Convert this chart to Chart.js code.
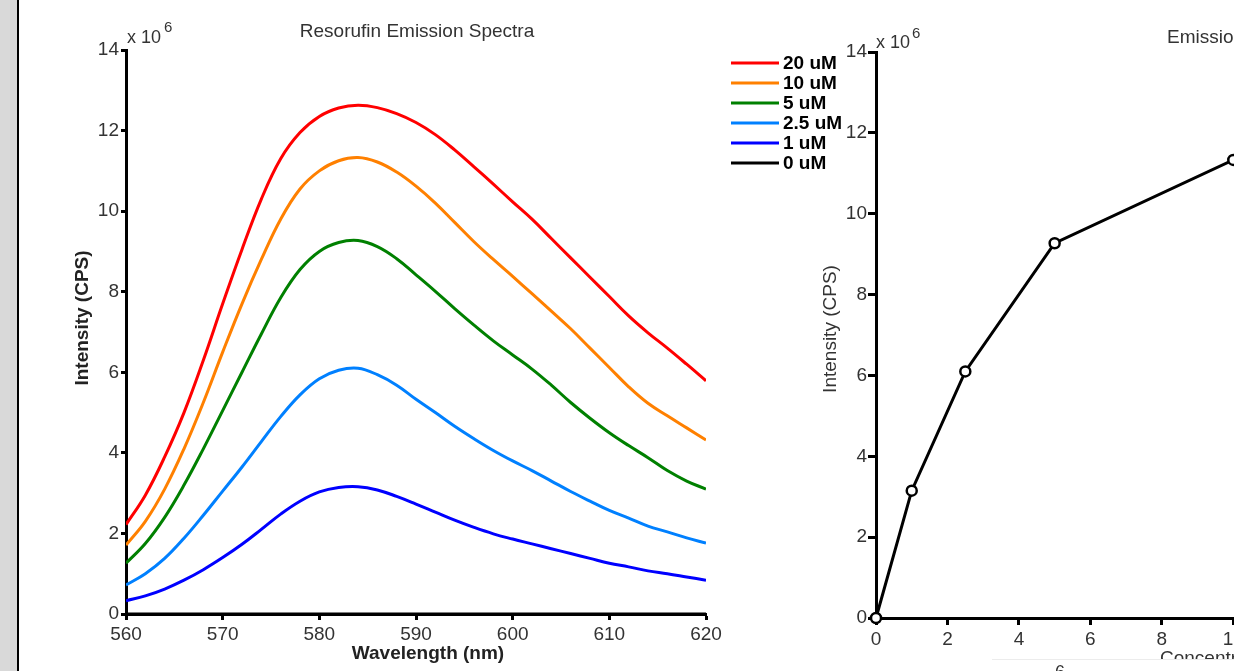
<!DOCTYPE html>
<html>
<head>
<meta charset="utf-8">
<script src="https://cdn.jsdelivr.net/npm/chart.js@4.4.1/dist/chart.umd.min.js"></script>
<style>
  html, body { margin: 0; padding: 0; background: #fff; overflow: hidden; }
  #page { position: relative; width: 1234px; height: 671px; overflow: hidden; background: #fff; }
  #band { position: absolute; left: 0; top: 0; width: 17px; height: 671px; background: #d9d9d9; }
  #edge { position: absolute; left: 17px; top: 0; width: 2px; height: 671px; background: #000; }
  canvas { position: absolute; top: 0; }
  #spectra { left: 0; }
  #peaks { left: 780px; }
</style>
</head>
<body>
<div id="page">
  <div id="band"></div>
  <div id="edge"></div>
  <canvas id="spectra" width="860" height="671"></canvas>
  <canvas id="peaks" width="830" height="671"></canvas>
</div>
<script>
// wavelength grid (nm)
const wavelengths = [560, 562, 564, 566, 568, 570, 572, 574, 576, 578, 580, 582, 584, 586, 588,
  590, 592, 594, 596, 598, 600, 602, 604, 606, 608, 610, 612, 614, 616, 618, 620];

// emission intensity, x 10^6 CPS
const uM20 = [2.22, 2.95, 3.90, 5.00, 6.30, 7.70, 9.05, 10.30, 11.30, 11.95, 12.35, 12.56, 12.63, 12.57, 12.42,
  12.20, 11.90, 11.52, 11.10, 10.67, 10.23, 9.80, 9.32, 8.84, 8.36, 7.88, 7.40, 6.98, 6.60, 6.20, 5.79];
const uM10 = [1.71, 2.30, 3.10, 4.10, 5.25, 6.50, 7.70, 8.80, 9.80, 10.55, 11.00, 11.25, 11.33, 11.22, 10.97,
  10.62, 10.20, 9.72, 9.24, 8.80, 8.38, 7.95, 7.52, 7.08, 6.60, 6.12, 5.64, 5.23, 4.92, 4.62, 4.32];
const uM5 = [1.26, 1.75, 2.40, 3.20, 4.10, 5.05, 6.00, 6.95, 7.85, 8.55, 9.00, 9.22, 9.27, 9.12, 8.82,
  8.42, 8.01, 7.58, 7.17, 6.78, 6.43, 6.08, 5.68, 5.25, 4.86, 4.50, 4.18, 3.88, 3.56, 3.30, 3.10];
const uM2_5 = [0.72, 1.00, 1.38, 1.88, 2.45, 3.05, 3.65, 4.28, 4.90, 5.44, 5.84, 6.05, 6.10, 5.94, 5.68,
  5.33, 5.00, 4.66, 4.35, 4.06, 3.80, 3.56, 3.30, 3.04, 2.80, 2.57, 2.38, 2.18, 2.04, 1.89, 1.76];
const uM1 = [0.33, 0.45, 0.62, 0.84, 1.10, 1.40, 1.73, 2.10, 2.48, 2.80, 3.03, 3.14, 3.16, 3.08, 2.92,
  2.73, 2.53, 2.33, 2.15, 1.99, 1.86, 1.74, 1.62, 1.50, 1.38, 1.26, 1.17, 1.07, 1.00, 0.92, 0.84];
const uM0 = [0, 0, 0, 0, 0, 0, 0, 0, 0, 0, 0, 0, 0, 0, 0,
  0, 0, 0, 0, 0, 0, 0, 0, 0, 0, 0, 0, 0, 0, 0, 0];

const seriesLabels = ['20 uM', '10 uM', '5 uM', '2.5 uM', '1 uM', '0 uM'];
const seriesColors = ['#ff0000', '#ff8000', '#008000', '#0080ff', '#0000ff', '#000000'];
const seriesValues = [uM20, uM10, uM5, uM2_5, uM1, uM0];

// peak intensity vs concentration
const concentrations = [0, 1, 2.5, 5, 10, 20];
const peakIntensity = [0, 3.15, 6.1, 9.27, 11.33, 12.63];

const FONT = "'Liberation Sans', Arial, sans-serif";
Chart.defaults.font.family = FONT;
Chart.defaults.color = '#333';

// draws the texts that sit outside the plot (titles, axis names, exponent, legend)
const textPlugin = (draw) => ({
    id: 'texts',
    afterDraw(chart) {
        const ctx = chart.ctx;
        ctx.save();
        draw(ctx);
        ctx.restore();
    }
});

function vText(ctx, text, x, y, font) {
    ctx.save();
    ctx.translate(x, y);
    ctx.rotate(-Math.PI / 2);
    ctx.font = font;
    ctx.textAlign = 'center';
    ctx.textBaseline = 'middle';
    ctx.fillText(text, 0, 0);
    ctx.restore();
}

new Chart(document.getElementById('spectra'), {
    type: 'line',
    data: {
        labels: wavelengths,
        datasets: seriesValues.map((vals, i) => ({
            label: seriesLabels[i],
            data: vals.map((v, j) => ({ x: wavelengths[j], y: v })),
            borderColor: seriesColors[i],
            borderWidth: 3,
            pointRadius: 0,
            fill: false,
            tension: 0.4
        })).reverse()
    },
    options: {
        responsive: false,
        animation: false,
        events: [],
        layout: { padding: { left: 0, top: 50, right: 154, bottom: 0 } },
        plugins: { legend: { display: false }, title: { display: false }, tooltip: { enabled: false } },
        scales: {
            x: {
                type: 'linear',
                min: 560, max: 620,
                afterFit(scale) { scale.height = 57; },
                ticks: { stepSize: 10, padding: 3, font: { size: 19 }, color: '#333' },
                grid: { drawOnChartArea: false, tickLength: 6, tickWidth: 3, tickColor: '#000' },
                border: { color: '#000', width: 3 }
            },
            y: {
                min: 0, max: 14,
                afterFit(scale) { scale.width = 126; },
                ticks: { stepSize: 2, padding: 2, font: { size: 19 }, color: '#333' },
                grid: { drawOnChartArea: false, tickLength: 5, tickWidth: 3, tickColor: '#000' },
                border: { color: '#000', width: 3 }
            }
        }
    },
    plugins: [textPlugin((ctx) => {
        ctx.fillStyle = '#333';
        ctx.textBaseline = 'alphabetic';
        ctx.textAlign = 'center';
        ctx.font = '19px ' + FONT;
        ctx.fillText('Resorufin Emission Spectra', 417, 37);

        ctx.textAlign = 'left';
        ctx.font = '18px ' + FONT;
        ctx.fillText('x 10', 127, 43);
        ctx.font = '15px ' + FONT;
        ctx.fillText('6', 164, 32);

        ctx.fillStyle = '#222';
        ctx.textAlign = 'center';
        ctx.font = 'bold 19px ' + FONT;
        ctx.fillText('Wavelength (nm)', 428, 659);
        vText(ctx, 'Intensity (CPS)', 83, 318, 'bold 19px ' + FONT);

        // legend
        ctx.font = 'bold 19px ' + FONT;
        ctx.textAlign = 'left';
        ctx.textBaseline = 'middle';
        seriesLabels.forEach((lab, i) => {
            const y = 63 + i * 20;
            ctx.strokeStyle = seriesColors[i];
            ctx.lineWidth = 3;
            ctx.beginPath();
            ctx.moveTo(731, y);
            ctx.lineTo(779, y);
            ctx.stroke();
            ctx.fillStyle = '#000';
            ctx.fillText(lab, 783, y + 1);
        });
    })]
});

const OX = 780; // page x of the second canvas

new Chart(document.getElementById('peaks'), {
    type: 'line',
    data: {
        datasets: [{
            label: 'Peak',
            data: concentrations.map((c, i) => ({ x: c, y: peakIntensity[i] })),
            borderColor: '#000',
            borderWidth: 3,
            pointRadius: 5,
            pointBorderWidth: 2.5,
            pointBackgroundColor: '#fff',
            pointBorderColor: '#000',
            tension: 0,
            clip: false
        }]
    },
    options: {
        responsive: false,
        animation: false,
        events: [],
        layout: { padding: { left: 0, top: 52, right: 19.4, bottom: 0 } },
        plugins: { legend: { display: false }, title: { display: false }, tooltip: { enabled: false } },
        scales: {
            x: {
                type: 'linear',
                min: 0, max: 20,
                afterFit(scale) { scale.height = 53; },
                ticks: { stepSize: 2, padding: 3, font: { size: 19 }, color: '#333' },
                grid: { drawOnChartArea: false, tickLength: 7, tickWidth: 3, tickColor: '#000' },
                border: { color: '#000', width: 3 }
            },
            y: {
                min: 0, max: 14,
                afterFit(scale) { scale.width = 96; },
                ticks: { stepSize: 2, padding: 1, font: { size: 19 }, color: '#333' },
                grid: { drawOnChartArea: false, tickLength: 8, tickWidth: 3, tickColor: '#000' },
                border: { color: '#000', width: 3 }
            }
        }
    },
    plugins: [textPlugin((ctx) => {
        ctx.fillStyle = '#333';
        ctx.textBaseline = 'alphabetic';
        ctx.textAlign = 'left';
        ctx.font = '19px ' + FONT;
        ctx.fillText('Emission vs Concentration', 1167 - OX, 43);

        ctx.font = '18px ' + FONT;
        ctx.fillText('x 10', 876 - OX, 48);
        ctx.font = '15px ' + FONT;
        ctx.fillText('6', 912 - OX, 38);

        vText(ctx, 'Intensity (CPS)', 831 - OX, 329, '19px ' + FONT);

        ctx.font = '19px ' + FONT;
        ctx.fillText('Concentration (uM)', 1160 - OX, 664);

        // box partly covering the axis name at the bottom
        ctx.fillStyle = '#fff';
        ctx.fillRect(992 - OX, 659.5, 700, 20);
        ctx.fillStyle = '#ececec';
        ctx.fillRect(992 - OX, 659, 700, 1);
        ctx.fillStyle = '#333';
        ctx.font = '18px ' + FONT;
        ctx.fillText('6', 1055 - OX, 678);
    })]
});
</script>
</body>
</html>
